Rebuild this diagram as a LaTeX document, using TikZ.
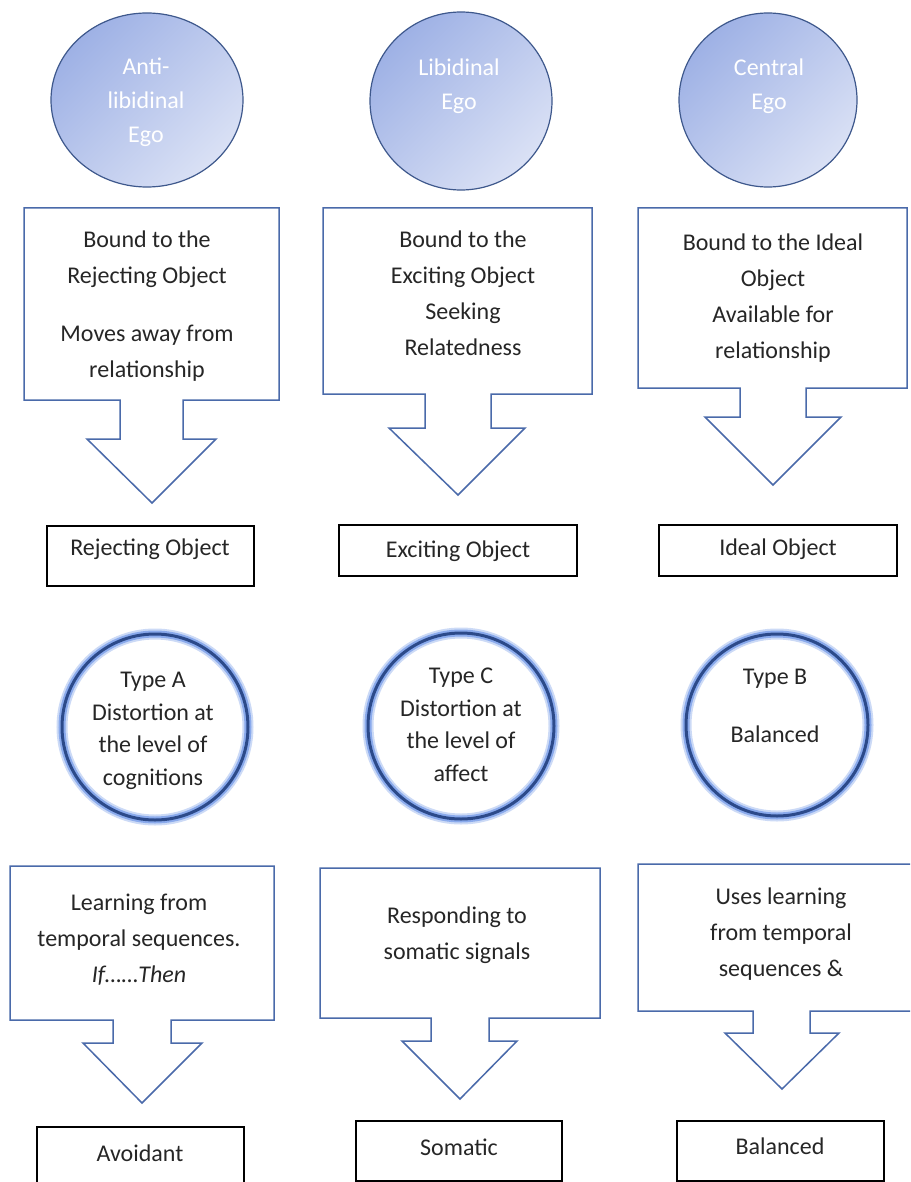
\documentclass[tikz,border=0pt]{standalone}
\usepackage{fontspec}
\setmainfont{Carlito}
\begin{document}
\begin{tikzpicture}[x=1pt,y=-1pt,
  egofill/.style={draw=egoedge,line width=1.2pt,shading=axis,top color=egoA,bottom color=egoB,shading angle=45},
  egotext/.style={text=white,align=center,font=\fontsize{24}{34}\selectfont},
  callout/.style={draw=callblue,line width=1.5pt,line join=miter},
  calltext/.style={align=center,font=\fontsize{24}{36}\selectfont,text=black!85},
  objbox/.style={draw=black,line width=2pt},
  objtext/.style={font=\fontsize{24}{30}\selectfont,text=black!85},
  glowwide/.style={draw=glowblue,line width=11pt,opacity=0.35},
  glow/.style={draw=glowblue,line width=7pt,opacity=0.7},
  ring/.style={draw=ringblue,line width=3pt},
  ringtext/.style={align=center,font=\fontsize{24}{32.5}\selectfont,text=black!85}]
\definecolor{egoA}{RGB}{158,177,229}
\definecolor{egoB}{RGB}{218,225,245}
\definecolor{egoedge}{RGB}{62,88,140}
\definecolor{callblue}{RGB}{74,106,170}
\definecolor{glowblue}{RGB}{110,150,232}
\definecolor{ringblue}{RGB}{44,74,138}
\useasboundingbox (0,0) rectangle (910,1182);
\clip (0,0) rectangle (910,1182);
\fill[white] (0,0) rectangle (910,1182);

% Top ellipses
\draw[egofill] (147,100) ellipse [x radius=96,y radius=87];
\draw[egofill] (461,101) ellipse [x radius=91,y radius=89];
\draw[egofill] (768,100) ellipse [x radius=89,y radius=87];
\node[egotext] (ego1) at (146,102) {Anti-\\libidinal\\Ego};
\node[egotext] (ego2) at (459,86) {Libidinal\\Ego};
\node[egotext] (ego3) at (769,86) {Central\\Ego};

% Top callouts
\draw[callout] (24,208) -- (279,208) -- (279,400) -- (183,400) -- (183,439) -- (216,439) -- (152,503) -- (87,439) -- (120,439) -- (120,400) -- (24,400) -- cycle;
\draw[callout] (323,208) -- (592,208) -- (592,394) -- (491,394) -- (491,428) -- (525,428) -- (458,495) -- (389,428) -- (425,428) -- (425,394) -- (323,394) -- cycle;
\draw[callout] (638,208) -- (907,208) -- (907,388) -- (806,388) -- (806,417) -- (841,417) -- (773,485) -- (705,417) -- (740,417) -- (740,388) -- (638,388) -- cycle;
\node[calltext] (c1) at (147,306) {Bound to the\\Rejecting Object\\[22pt]Moves away from\\relationship};
\node[calltext] (c2) at (463,293) {Bound to the\\Exciting Object\\Seeking\\Relatedness};
\node[calltext] (c3) at (773,298) {Bound to the Ideal\\Object\\Available for\\relationship};

% Object boxes
\draw[objbox] (47,526) rectangle (254,586);
\draw[objbox] (339,525) rectangle (577,576);
\draw[objbox] (659,525) rectangle (897,576);
\node[objtext] (o1) at (150,549) {Rejecting Object};
\node[objtext] (o2) at (458,551) {Exciting Object};
\node[objtext] (o3) at (778,549) {Ideal Object};

% Ring circles
\foreach \cx/\cy/\r in {155/727/93, 461/726/93, 777/725/91}{
  \draw[glowwide] (\cx,\cy) circle [radius=\r];
  \draw[glow] (\cx,\cy) circle [radius=\r];
  \draw[ring] (\cx,\cy) circle [radius=\r];
}
\node[ringtext] (t1) at (153,731) {Type A\\Distortion at\\the level of\\cognitions};
\node[ringtext] (t2) at (461,725) {Type C\\Distortion at\\the level of\\affect};
\node[ringtext] (t3) at (775,706) {Type B\\[26pt]Balanced};

% Bottom callouts
\draw[callout] (10,866) -- (274,866) -- (274,1020) -- (171,1020) -- (171,1043) -- (202,1043) -- (142,1103) -- (83,1043) -- (113,1043) -- (113,1020) -- (10,1020) -- cycle;
\draw[callout] (320,868) -- (600,868) -- (600,1018) -- (489,1018) -- (489,1041) -- (517,1041) -- (460,1099) -- (402,1041) -- (431,1041) -- (431,1018) -- (320,1018) -- cycle;
\draw[callout] (638,864) -- (924,864) -- (924,1011) -- (810,1011) -- (810,1033) -- (839,1033) -- (782,1089) -- (725,1033) -- (753,1033) -- (753,1011) -- (638,1011) -- cycle;
\node[calltext] (b1) at (139,940) {Learning from\\temporal sequences.\\\textit{If……Then}};
\node[calltext] (b2) at (457,935) {Responding to\\somatic signals};
\node[calltext] (b3) at (781,934) {Uses learning\\from temporal\\sequences \&};

% Bottom boxes
\draw[objbox] (37,1127) rectangle (244,1200);
\draw[objbox] (356,1121) rectangle (562,1181);
\draw[objbox] (677,1121) rectangle (884,1181);
\node[objtext] (d1) at (140,1153) {Avoidant};
\node[objtext] (d2) at (459,1147) {Somatic};
\node[objtext] (d3) at (780,1146) {Balanced};
\end{tikzpicture}
\end{document}
